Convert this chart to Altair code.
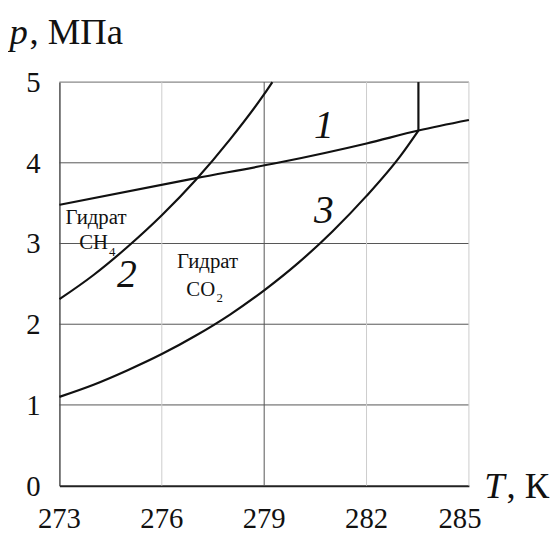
import altair as alt
import pandas as pd

# ---- data ----
# curve 1 (nearly straight line)
T1 = [273, 277, 279.4, 282, 283.52, 285]
P1 = [3.48, 3.81, 4.00, 4.24, 4.40, 4.53]
# curve 2 (CH4 hydrate)
T2 = [273, 274, 275, 276, 277, 278, 279, 279.24]
P2 = [2.31, 2.61, 2.96, 3.35, 3.79, 4.29, 4.85, 5.00]
# curve 3 (CO2 hydrate)
T3 = [273, 274, 275, 276, 277, 278, 279, 280, 281, 282, 283, 283.52]
P3 = [1.10, 1.25, 1.43, 1.63, 1.86, 2.12, 2.42, 2.76, 3.15, 3.59, 4.09, 4.40]
# vertical segment at quadruple point
TV = [283.52, 283.52]
PV = [4.40, 5.00]

x_ticks = [273, 276, 279, 282]
x_tick_labels = ["273", "276", "279", "282"]
x_last_tick = [285]
x_last_label = ["285"]
y_ticks = [0, 1, 2, 3, 4, 5]
y_tick_labels = ["0", "1", "2", "3", "4", "5"]

h_grid = [1, 2, 3, 4, 5]
h_grid_col = ["#555555", "#555555", "#555555", "#555555", "#6a6a6a"]
v_grid = [276, 279, 282, 285]
v_grid_col = ["#cccccc", "#555555", "#cccccc", "#cccccc"]

# curve numbers (italic)
num_txt = ["1", "2", "3"]
num_T = [280.75, 274.98, 280.75]
num_p = [4.31, 2.46, 3.25]

# region labels
lab_txt = ["Гидрат", "CH", "Гидрат", "CO"]
lab_T = [274.07, 274.0, 277.34, 277.14]
lab_p = [3.24, 2.93, 2.70, 2.345]

sub_txt = ["4", "2"]
sub_T = [274.55, 277.70]
sub_p = [2.84, 2.28]

FONT = "Times New Roman, Liberation Serif, serif"

rows = []
for name, T, P in [("1", T1, P1), ("2", T2, P2), ("3", T3, P3), ("v", TV, PV)]:
    for i, (t, p) in enumerate(zip(T, P)):
        rows.append({"s": name, "T": t, "p": p, "o": i})
curves = pd.DataFrame(rows)

xs = alt.Scale(domain=[273, 285], nice=False, zero=False)
ys = alt.Scale(domain=[0, 5], nice=False, zero=True)

x_axis = alt.Axis(values=x_ticks + x_last_tick, title=None, grid=False, ticks=False,
                  labels=False, domainColor="#222222", domainWidth=2)
y_axis = alt.Axis(values=y_ticks, title=None, grid=False, ticks=False, labels=False,
                  domainColor="#333333", domainWidth=1.3)


def X():
    return alt.X("T:Q", scale=xs, axis=x_axis)


def Y():
    return alt.Y("p:Q", scale=ys, axis=y_axis)


hg = pd.DataFrame({"p": h_grid, "c": h_grid_col})
vg = pd.DataFrame({"T": v_grid, "c": v_grid_col})

hgrid = alt.Chart(hg).mark_rule(strokeWidth=1).encode(
    y=Y(), color=alt.Color("c:N", scale=None))
vgrid = alt.Chart(vg).mark_rule(strokeWidth=1).encode(
    x=X(), color=alt.Color("c:N", scale=None))

lines = alt.Chart(curves).mark_line(color="#111111", strokeWidth=2.2,
                                    interpolate="monotone").encode(
    x=X(), y=Y(), detail="s:N", order="o:Q")

# tick labels drawn as serif text
xlab = alt.Chart(pd.DataFrame({"t": x_tick_labels, "T": x_ticks,
                               "p": [0] * len(x_ticks)})).mark_text(
    font=FONT, fontSize=29, align="center", baseline="alphabetic", dy=43,
    color="#111111").encode(x=X(), y=Y(), text="t:N")
xlab_last = alt.Chart(pd.DataFrame({"t": x_last_label, "T": x_last_tick,
                                    "p": [0]})).mark_text(
    font=FONT, fontSize=29, align="center", baseline="alphabetic", dy=43, dx=-9,
    color="#111111").encode(x=X(), y=Y(), text="t:N")
ylab = alt.Chart(pd.DataFrame({"t": y_tick_labels, "p": y_ticks,
                               "T": [273] * len(y_ticks)})).mark_text(
    font=FONT, fontSize=29, align="right", baseline="middle", dx=-19, dy=1,
    color="#111111").encode(x=X(), y=Y(), text="t:N")

nums = alt.Chart(pd.DataFrame({"t": num_txt, "T": num_T, "p": num_p})).mark_text(
    font=FONT, fontSize=40, fontStyle="italic", align="center",
    baseline="alphabetic", color="#111111").encode(x=X(), y=Y(), text="t:N")

labs = alt.Chart(pd.DataFrame({"t": lab_txt, "T": lab_T, "p": lab_p})).mark_text(
    font=FONT, fontSize=21, align="center", baseline="alphabetic",
    color="#111111").encode(x=X(), y=Y(), text="t:N")

subs = alt.Chart(pd.DataFrame({"t": sub_txt, "T": sub_T, "p": sub_p})).mark_text(
    font=FONT, fontSize=13, align="center", baseline="alphabetic",
    color="#111111").encode(x=X(), y=Y(), text="t:N")

# axis titles: italic symbol + upright unit
ttl_it = alt.Chart(pd.DataFrame({"t": ["p", "T"], "T": [271.54, 285.45],
                                 "p": [5.469, -0.147]})).mark_text(
    font=FONT, fontSize=37, fontStyle="italic", align="left",
    baseline="alphabetic", color="#111111").encode(x=X(), y=Y(), text="t:N")
ttl_up = alt.Chart(pd.DataFrame({"t": [", МПа", ", К"], "T": [272.12, 286.1],
                                 "p": [5.469, -0.147]})).mark_text(
    font=FONT, fontSize=37, align="left", baseline="alphabetic",
    color="#111111").encode(x=X(), y=Y(), text="t:N")

chart = alt.layer(hgrid, vgrid, lines, xlab, xlab_last, ylab, nums, labs, subs,
                  ttl_it, ttl_up).properties(
    width=414, height=408,
    padding={"left": 52, "top": 72, "right": 84, "bottom": 48},
    autosize=alt.AutoSizeParams(type="none"),
    background="white",
).configure_view(stroke=None)

chart.save("out.html", embed_options={"renderer": "svg", "actions": False})
